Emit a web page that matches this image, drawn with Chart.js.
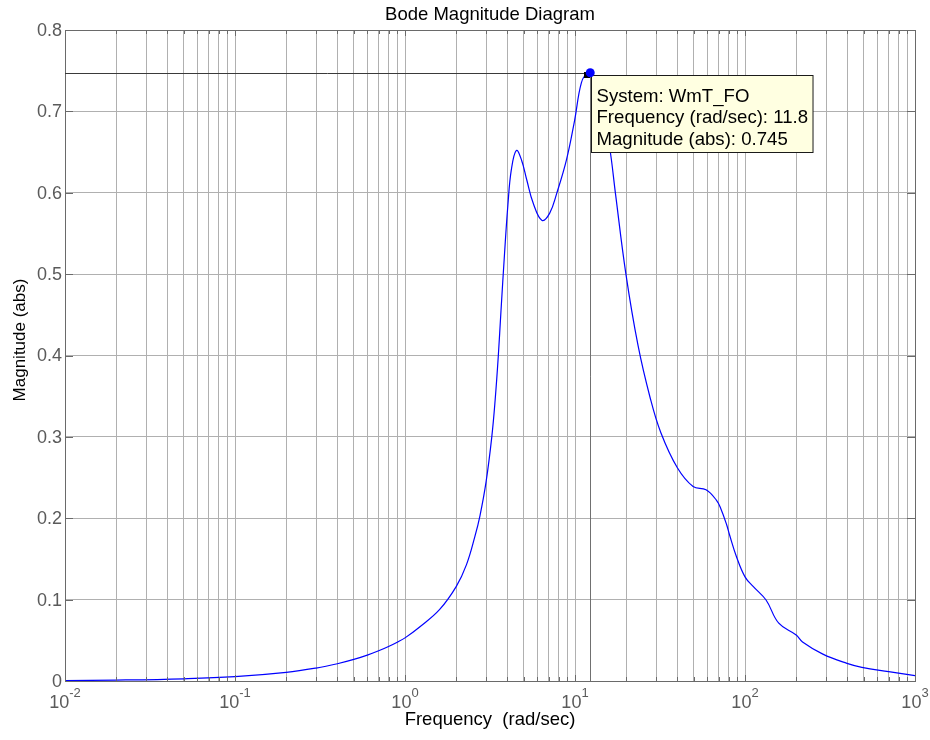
<!DOCTYPE html>
<html>
<head>
<meta charset="utf-8">
<title>Bode Magnitude Diagram</title>
<script src="https://cdn.jsdelivr.net/npm/chart.js@4/dist/chart.umd.min.js"></script>
<style>
  html, body { margin: 0; padding: 0; background: #fff; }
  canvas { display: block; }
</style>
</head>
<body>
<canvas id="bodeChart" width="930" height="740"></canvas>
<script>
// frequency response of WmT_FO, magnitude in abs units
const freq = [0.01, 0.02, 0.05, 0.1, 0.2, 0.3, 0.4, 0.5, 0.6, 0.7, 0.8, 0.9, 1.0,
  1.23, 1.6, 2.0, 2.3, 2.58, 2.76, 3.0, 3.24, 3.39, 3.54, 3.67, 3.85, 4.03, 4.22,
  4.52, 4.85, 5.2, 5.68, 6.4, 7.1, 7.8, 8.9, 9.95, 10.9, 11.8, 13.0, 14.5, 16.0,
  17.3, 19.9, 23.5, 27.6, 32, 40, 49.5, 59, 68, 72, 78, 81, 89, 100, 112, 133,
  158, 200, 218, 287, 398, 487, 700, 1000];
const mag = [0.0006, 0.0011, 0.0027, 0.0053, 0.0106, 0.0159, 0.0212, 0.0265, 0.0318,
  0.0371, 0.0424, 0.0477, 0.053, 0.067, 0.088, 0.116, 0.143, 0.178, 0.203, 0.245,
  0.300, 0.345, 0.400, 0.455, 0.525, 0.585, 0.628, 0.652, 0.640, 0.616, 0.587,
  0.566, 0.575, 0.599, 0.640, 0.689, 0.735, 0.745, 0.735, 0.700, 0.655, 0.599,
  0.501, 0.412, 0.349, 0.305, 0.262, 0.239, 0.235, 0.222, 0.212, 0.192, 0.180,
  0.153, 0.128, 0.116, 0.0995, 0.071, 0.0565, 0.048, 0.033, 0.0217, 0.0168,
  0.0115, 0.0066];

// decade labels on the frequency axis: 10^exp
const xDecades = [0.01, 0.1, 1, 10, 100, 1000];
const xExponents = ['-2', '-1', '0', '1', '2', '3'];
const yTicks = [0, 0.1, 0.2, 0.3, 0.4, 0.5, 0.6, 0.7, 0.8];
const yTickLabels = ['0', '0.1', '0.2', '0.3', '0.4', '0.5', '0.6', '0.7', '0.8'];

// data cursor
const tipSystem = 'WmT_FO';
const tipFreq = 11.8;
const tipMag = 0.745;

// every 1..9 x 10^k position gets a grid line
const logTicks = [];
for (let k = -2; k <= 2; k++) {
  for (let m = 1; m <= 9; m++) logTicks.push(+(m * Math.pow(10, k)).toPrecision(3));
}
logTicks.push(1000);

const FONT = '"Liberation Sans", Arial, sans-serif';
const gridColor = '#b0b0b0';
const frameColor = '#6a6a6a';
const tickText = '#5a5a5a';

const overlay = {
  id: 'overlay',
  afterDraw(chart) {
    const ctx = chart.ctx;
    const a = chart.chartArea;
    const xs = chart.scales.x, ys = chart.scales.y;
    ctx.save();

    // axes box
    ctx.strokeStyle = frameColor;
    ctx.lineWidth = 1;
    ctx.strokeRect(Math.round(a.left) + 0.5, Math.round(a.top) + 0.5,
      Math.round(a.right - a.left), Math.round(a.bottom - a.top));

    // inner tick marks
    ctx.beginPath();
    logTicks.forEach(v => {
      const x = Math.round(xs.getPixelForValue(v)) + 0.5;
      const len = xDecades.includes(v) ? 6 : 4;
      ctx.moveTo(x, a.bottom); ctx.lineTo(x, a.bottom - len);
      ctx.moveTo(x, a.top); ctx.lineTo(x, a.top + len);
    });
    yTicks.forEach(v => {
      const y = Math.round(ys.getPixelForValue(v)) + 0.5;
      ctx.moveTo(a.left, y); ctx.lineTo(a.left + 8, y);
      ctx.moveTo(a.right, y); ctx.lineTo(a.right - 8, y);
    });
    ctx.stroke();

    // y tick labels
    ctx.fillStyle = tickText;
    ctx.font = '18px ' + FONT;
    ctx.textAlign = 'right';
    ctx.textBaseline = 'middle';
    yTicks.forEach((v, i) => {
      ctx.fillText(yTickLabels[i], a.left - 3, ys.getPixelForValue(v) + 1);
    });

    // x tick labels with superscript exponent
    ctx.textBaseline = 'alphabetic';
    ctx.textAlign = 'left';
    xDecades.forEach((v, i) => {
      const x = xs.getPixelForValue(v);
      ctx.font = '18px ' + FONT;
      const wBase = ctx.measureText('10').width;
      ctx.font = '13px ' + FONT;
      const wExp = ctx.measureText(xExponents[i]).width;
      const x0 = x - (wBase + wExp) / 2;
      ctx.font = '18px ' + FONT;
      ctx.fillText('10', x0, a.bottom + 27);
      ctx.font = '13px ' + FONT;
      ctx.fillText(xExponents[i], x0 + wBase, a.bottom + 16);
    });

    // title and axis labels
    ctx.fillStyle = '#000';
    ctx.font = '18.5px ' + FONT;
    ctx.textAlign = 'center';
    ctx.textBaseline = 'middle';
    ctx.fillText('Bode Magnitude Diagram', (a.left + a.right) / 2, 15);
    ctx.fillText('Frequency  (rad/sec)', (a.left + a.right) / 2, 720);
    ctx.save();
    ctx.font = '17px ' + FONT;
    ctx.translate(20, 340);
    ctx.rotate(-Math.PI / 2);
    ctx.fillText('Magnitude (abs)', 0, 0);
    ctx.restore();

    // data cursor: cross lines, marker and tip box
    const px = xs.getPixelForValue(tipFreq);
    const py = ys.getPixelForValue(tipMag);
    const dx = px + 3, dy = py - 2;
    ctx.strokeStyle = '#3a3a3a';
    ctx.beginPath();
    ctx.moveTo(a.left, Math.round(dy) + 0.5); ctx.lineTo(dx, Math.round(dy) + 0.5);
    ctx.stroke();
    ctx.strokeStyle = '#707070';
    ctx.beginPath();
    ctx.moveTo(Math.round(dx) + 0.5, dy); ctx.lineTo(Math.round(dx) + 0.5, a.bottom);
    ctx.stroke();

    const lines = ['System: ' + tipSystem,
      'Frequency (rad/sec): ' + tipFreq,
      'Magnitude (abs): ' + tipMag];
    ctx.font = '18.6px ' + FONT;
    const boxW = Math.max(...lines.map(t => ctx.measureText(t).width)) + 10;
    const bx = Math.round(px + 4) + 0.5, by = Math.round(py) + 0.5;
    ctx.fillStyle = '#ffffe1';
    ctx.fillRect(bx, by, boxW, 77);
    ctx.strokeStyle = '#1a1a1a';
    ctx.strokeRect(bx, by, boxW, 77);
    ctx.fillStyle = '#000';
    ctx.textAlign = 'left';
    ctx.textBaseline = 'alphabetic';
    lines.forEach((t, i) => ctx.fillText(t, bx + 5, by + 26 + i * 21.8));

    ctx.fillStyle = '#000';
    ctx.fillRect(Math.round(px) - 3, Math.round(py) - 3, 6, 6);
    ctx.fillStyle = '#0000ff';
    ctx.beginPath();
    ctx.arc(dx, dy, 4.5, 0, Math.PI * 2);
    ctx.fill();

    ctx.restore();
  }
};

new Chart(document.getElementById('bodeChart').getContext('2d'), {
  type: 'scatter',
  data: {
    datasets: [{
      label: tipSystem,
      data: freq.map((f, i) => ({ x: f, y: mag[i] })),
      showLine: true,
      borderColor: '#0000ff',
      borderWidth: 1.2,
      pointRadius: 0,
      tension: 0.4,
      fill: false
    }]
  },
  options: {
    responsive: false,
    animation: false,
    layout: { padding: { left: 65, top: 30, right: 15, bottom: 59 } },
    plugins: { legend: { display: false }, tooltip: { enabled: false } },
    scales: {
      x: {
        type: 'logarithmic',
        min: 0.01,
        max: 1000,
        afterBuildTicks: scale => { scale.ticks = logTicks.map(v => ({ value: v })); },
        ticks: { display: false },
        grid: { color: gridColor, drawTicks: false },
        border: { display: false }
      },
      y: {
        min: 0,
        max: 0.8,
        afterBuildTicks: scale => { scale.ticks = yTicks.map(v => ({ value: v })); },
        ticks: { display: false },
        grid: { color: gridColor, drawTicks: false },
        border: { display: false }
      }
    }
  },
  plugins: [overlay]
});
</script>
</body>
</html>
